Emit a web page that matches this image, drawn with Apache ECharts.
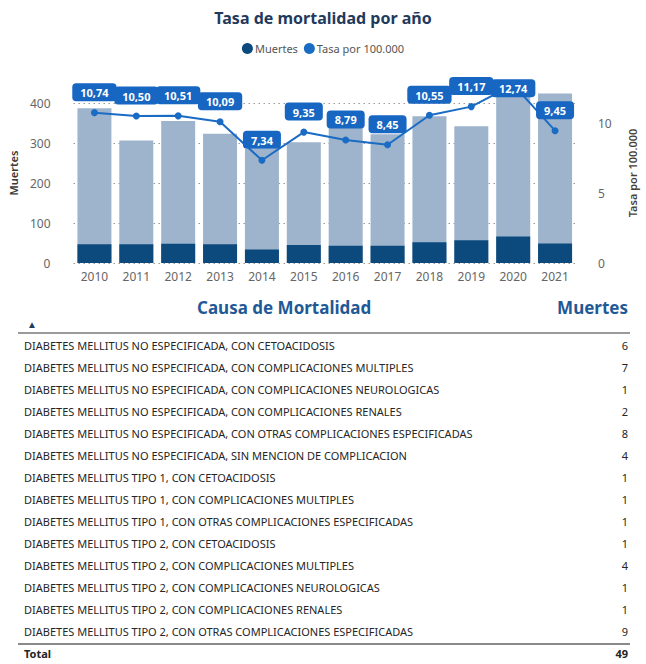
<!DOCTYPE html>
<html><head><meta charset="utf-8">
<script src="https://cdn.jsdelivr.net/npm/echarts@6/dist/echarts.min.js"></script>
<style>html,body{margin:0;padding:0;background:#fff}#c{width:646px;height:664px}</style>
</head><body><div id="c"></div>
<script>
const years = ['2010','2011','2012','2013','2014','2015','2016','2017','2018','2019','2020','2021'];
const muertesTotal = [387, 306, 355, 323, 285, 302, 340, 322, 367, 342, 435, 424];
const muertesSeleccion = [47, 47, 48, 47, 34, 45, 43, 43, 52, 57, 66, 49];
const tasa = [10.74, 10.50, 10.51, 10.09, 7.34, 9.35, 8.79, 8.45, 10.55, 11.17, 12.74, 9.45];
const causas = [
  'DIABETES MELLITUS NO ESPECIFICADA, CON CETOACIDOSIS',
  'DIABETES MELLITUS NO ESPECIFICADA, CON COMPLICACIONES MULTIPLES',
  'DIABETES MELLITUS NO ESPECIFICADA, CON COMPLICACIONES NEUROLOGICAS',
  'DIABETES MELLITUS NO ESPECIFICADA, CON COMPLICACIONES RENALES',
  'DIABETES MELLITUS NO ESPECIFICADA, CON OTRAS COMPLICACIONES ESPECIFICADAS',
  'DIABETES MELLITUS NO ESPECIFICADA, SIN MENCION DE COMPLICACION',
  'DIABETES MELLITUS TIPO 1, CON CETOACIDOSIS',
  'DIABETES MELLITUS TIPO 1, CON COMPLICACIONES MULTIPLES',
  'DIABETES MELLITUS TIPO 1, CON OTRAS COMPLICACIONES ESPECIFICADAS',
  'DIABETES MELLITUS TIPO 2, CON CETOACIDOSIS',
  'DIABETES MELLITUS TIPO 2, CON COMPLICACIONES MULTIPLES',
  'DIABETES MELLITUS TIPO 2, CON COMPLICACIONES NEUROLOGICAS',
  'DIABETES MELLITUS TIPO 2, CON COMPLICACIONES RENALES',
  'DIABETES MELLITUS TIPO 2, CON OTRAS COMPLICACIONES ESPECIFICADAS'
];
const causaMuertes = [6, 7, 1, 2, 8, 4, 1, 1, 1, 1, 4, 1, 1, 9];
const totalLabel = 'Total';
const totalMuertes = 49;

const F = '"Noto Sans", sans-serif';
const chart = echarts.init(document.getElementById('c'), null, {renderer: 'svg'});
const fmt = v => Number(v).toFixed(2).replace('.', ',');
const option = {
  animation: false,
  title: {
    text: 'Tasa de mortalidad por año', left: 'center', top: 5,
    textStyle: {fontFamily: F, fontSize: 16, fontWeight: 'bold', color: '#1f3a5c'}
  },
  legend: {
    top: 38, left: 'center', icon: 'circle', itemWidth: 11, itemHeight: 11, itemGap: 6,
    data: ['Muertes', 'Tasa por 100.000'],
    textStyle: {fontFamily: F, fontSize: 11, color: '#555', padding: [0, 0, 0, -3]}
  },
  grid: [
    {left: 71, right: 55, top: 83, bottom: 401},
    {left: 24, right: 18, top: 335, height: 330}
  ],
  xAxis: [
    {type: 'category', gridIndex: 0, data: years, axisLine: {show: false}, axisTick: {show: false},
     axisLabel: {color: '#666', fontSize: 12, fontFamily: F, margin: 7}},
    {type: 'value', gridIndex: 1, show: false, min: 0, max: 1}
  ],
  yAxis: [
    {type: 'value', gridIndex: 0, min: 0, max: 450, interval: 100,
     name: 'Muertes', nameLocation: 'middle', nameGap: 52,
     nameTextStyle: {fontFamily: F, fontSize: 11, fontWeight: 600, color: '#3d3a36'},
     axisLine: {show: false}, axisTick: {show: false},
     axisLabel: {showMaxLabel: false, margin: 23, color: '#666', fontSize: 12, fontFamily: F},
     splitLine: {showMaxLine: false, lineStyle: {type: [1.5, 3.5], color: '#9a9a9a', width: 1.2}}},
    {type: 'value', gridIndex: 0, min: 0, max: 450 / 35, interval: 5, position: 'right',
     name: 'Tasa por 100.000', nameLocation: 'middle', nameGap: 51, nameRotate: 90,
     nameTextStyle: {fontFamily: F, fontSize: 11, fontWeight: 600, color: '#4a3f33'},
     axisLine: {show: false}, axisTick: {show: false}, splitLine: {show: false},
     axisLabel: {showMaxLabel: false, margin: 22, color: '#666', fontSize: 12, fontFamily: F}},
    {type: 'category', gridIndex: 1, inverse: true, position: 'left',
     data: causas.concat([totalLabel]),
     axisLine: {show: false}, axisTick: {show: false},
     axisLabel: {interval: 0, align: 'left', margin: 0, fontFamily: F, fontSize: 11, color: '#252525',
       formatter: v => v === totalLabel ? '{b|' + v + '}' : v,
       rich: {b: {fontFamily: F, fontSize: 11, fontWeight: 'bold', color: '#252525'}}}},
    {type: 'category', gridIndex: 1, inverse: true, position: 'right',
     data: causaMuertes.concat([totalMuertes]).map(String),
     axisLine: {show: false}, axisTick: {show: false},
     axisLabel: {interval: 0, align: 'right', margin: 0, fontFamily: F, fontSize: 11, color: '#252525',
       formatter: (v, i) => i === causaMuertes.length ? '{b|' + v + '}' : v,
       rich: {b: {fontFamily: F, fontSize: 11, fontWeight: 'bold', color: '#252525'}}}}
  ],
  graphic: [
    {type: 'text', left: 197, top: 299, style: {text: 'Causa de Mortalidad', font: 'bold 17px ' + F, fill: '#1f5a96'}},
    {type: 'text', right: 18, top: 299, style: {text: 'Muertes', font: 'bold 17px ' + F, fill: '#1f5a96'}},
    {type: 'text', left: 27, top: 319, style: {text: '▲', font: '10px ' + F, fill: '#1f3a5c'}},
    {type: 'line', shape: {x1: 18, y1: 333, x2: 630, y2: 333}, style: {stroke: '#9a9a9a', lineWidth: 2}},
    {type: 'line', shape: {x1: 18, y1: 644, x2: 630, y2: 644}, style: {stroke: '#8a8a8a', lineWidth: 2}}
  ],
  series: [
    {name: 'Total', type: 'bar', xAxisIndex: 0, yAxisIndex: 0, data: muertesTotal, barWidth: 34,
     itemStyle: {color: '#9db4cc'}, z: 2},
    {name: 'Muertes', type: 'bar', xAxisIndex: 0, yAxisIndex: 0, data: muertesSeleccion, barWidth: 34,
     barGap: '-100%', itemStyle: {color: '#0c4a7e'}, z: 3},
    {name: 'Tasa por 100.000', type: 'line', xAxisIndex: 0, yAxisIndex: 1,
     data: tasa.map((v, i) => i === tasa.indexOf(Math.max(...tasa)) ? {value: v, label: {offset: [0, 24]}} : v),
     symbol: 'circle', symbolSize: 7, z: 5,
     lineStyle: {color: '#1a6bc4', width: 2}, itemStyle: {color: '#1a6bc4'},
     label: {show: true, position: 'top', distance: 8, formatter: p => fmt(p.value),
       backgroundColor: '#1766c2', borderRadius: 4, padding: [4, 8, 3, 8],
       color: '#fff', fontFamily: F, fontSize: 11, fontWeight: 'bold'}}
  ]
};
chart.setOption(option);
</script></body></html>
